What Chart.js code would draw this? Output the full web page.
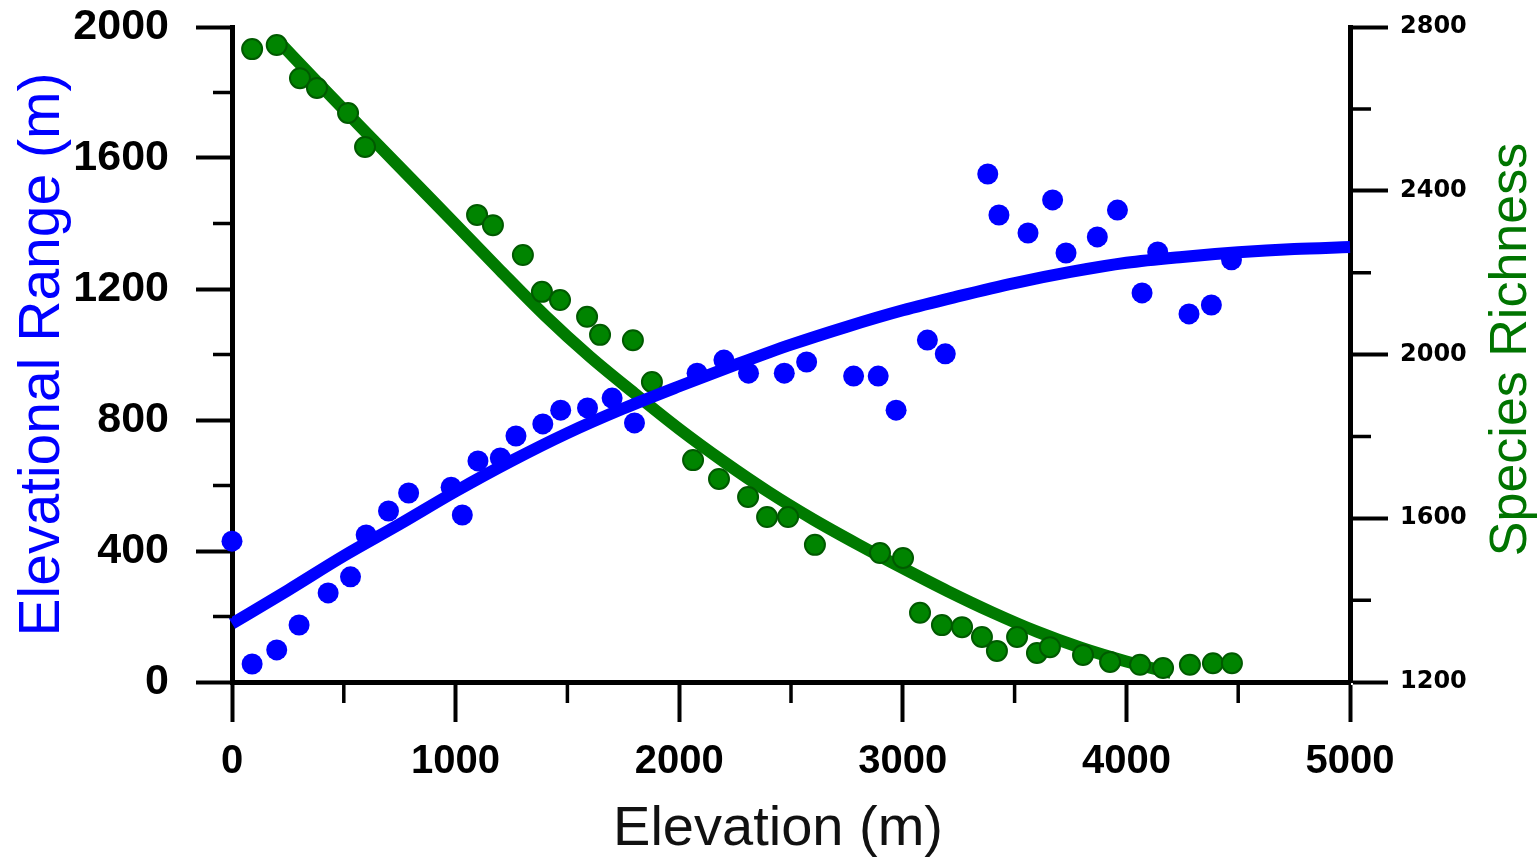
<!DOCTYPE html>
<html>
<head>
<meta charset="utf-8">
<script src="https://cdn.jsdelivr.net/npm/chart.js@4.4.1/dist/chart.umd.min.js"></script>
<style>
  html, body { margin: 0; padding: 0; background: #fff; overflow: hidden; }
  #wrap { width: 1540px; height: 861px; }
</style>
</head>
<body>
<div id="wrap"><canvas id="c" width="1540" height="861"></canvas></div>
<script>
// ---- Data ----
// Elevational range scatter (left axis)
const rangeElevation = [0, 90, 200, 300, 430, 530, 600, 700, 790, 980, 1030, 1100, 1200, 1270, 1390, 1470, 1590, 1700, 1800, 2080, 2200, 2310, 2470, 2570, 2780, 2890, 2970, 3110, 3190, 3380, 3430, 3560, 3670, 3730, 3870, 3960, 4070, 4140, 4280, 4380, 4470];
const rangeValues    = [430, 55, 98, 174, 272, 321, 449, 522, 577, 595, 510, 675, 684, 751, 788, 830, 837, 867, 791, 943, 983, 943, 943, 977, 934, 934, 830, 1044, 1002, 1551, 1426, 1371, 1472, 1310, 1359, 1441, 1188, 1313, 1124, 1151, 1289];

// Fitted curve of elevational range (left axis)
const rangeFitElevation = [0, 250, 500, 750, 1000, 1250, 1500, 1750, 2000, 2250, 2500, 2750, 3000, 3250, 3500, 3750, 4000, 4250, 4500, 4750, 5000];
const rangeFitValues    = [178, 280, 385, 482, 582, 675, 760, 835, 903, 968, 1030, 1085, 1135, 1178, 1218, 1252, 1280, 1298, 1312, 1322, 1328];

// Species richness scatter (right axis)
const richElevation = [90, 200, 304, 380, 519, 595, 1096, 1167, 1301, 1386, 1467, 1588, 1646, 1793, 1878, 2062, 2178, 2308, 2393, 2487, 2607, 2898, 3001, 3077, 3175, 3265, 3354, 3421, 3511, 3600, 3658, 3806, 3927, 4061, 4164, 4284, 4387, 4472];
const richValues    = [2746, 2756, 2675, 2651, 2590, 2507, 2341, 2316, 2243, 2153, 2133, 2092, 2048, 2035, 1933, 1742, 1696, 1652, 1603, 1603, 1535, 1515, 1503, 1369, 1339, 1334, 1310, 1276, 1310, 1271, 1285, 1266, 1249, 1242, 1234, 1242, 1246, 1246];

// Fitted curve of species richness (right axis)
const richFitElevation = [200, 400, 600, 800, 1000, 1200, 1400, 1600, 1800, 2000, 2200, 2400, 2600, 2800, 3000, 3200, 3400, 3600, 3800, 4000, 4200];
const richFitValues    = [2770, 2655, 2542, 2430, 2318, 2205, 2095, 1995, 1905, 1818, 1738, 1664, 1597, 1536, 1478, 1422, 1370, 1323, 1283, 1250, 1222];

// Axis ticks
const xMajorStep = 1000, xMin = 0, xMax = 5000;
const xMinorTicks = [500, 1500, 2500, 3500, 4500];
const yMajorStep = 400, yMin = 0, yMax = 2000;
const yMinorTicks = [200, 600, 1000, 1400, 1800];
const y1MajorStep = 400, y1Min = 1200, y1Max = 2800;
const y1MinorTicks = [1400, 1800, 2200, 2600];

const xTitle = 'Elevation (m)';
const yTitle = 'Elevational Range (m)';
const y1Title = 'Species Richness';

// ---- Styles ----
const BLUE = '#0000ff';
const GREEN = '#008400';
const GREEN_DARK = '#005a00';
const FONT = "'Liberation Sans', Arial, sans-serif";

const pts = (xs, ys) => xs.map((x, i) => ({ x: x, y: ys[i] }));
const plain = v => String(v);

const extrasPlugin = {
  id: 'extras',
  afterDraw(chart) {
    const ctx = chart.ctx;
    const { x, y, y1 } = chart.scales;
    ctx.save();
    // minor tick marks
    ctx.strokeStyle = '#000';
    ctx.lineWidth = 3.5;
    ctx.beginPath();
    xMinorTicks.forEach(v => { const p = x.getPixelForValue(v); ctx.moveTo(p, x.top); ctx.lineTo(p, x.top + 21); });
    yMinorTicks.forEach(v => { const p = y.getPixelForValue(v); ctx.moveTo(y.right - 19, p); ctx.lineTo(y.right, p); });
    y1MinorTicks.forEach(v => { const p = y1.getPixelForValue(v); ctx.moveTo(y1.left, p); ctx.lineTo(y1.left + 21, p); });
    ctx.stroke();
    ctx.textAlign = 'center';
    ctx.textBaseline = 'middle';
    // x axis title (slightly left of the plot centre, as in the reference)
    ctx.fillStyle = '#111';
    ctx.font = "56px " + FONT;
    ctx.fillText(xTitle, (x.left + x.right) / 2 - 13, x.bottom - 31);
    // right axis title, reading bottom-to-top as in the reference
    const cy = (y1.top + y1.bottom) / 2;
    ctx.translate(y1.right - 28, cy - 5);
    ctx.rotate(-Math.PI / 2);
    ctx.fillStyle = '#007400';
    ctx.font = "52px " + FONT;
    ctx.fillText(y1Title, 0, 0);
    ctx.restore();
  }
};

new Chart(document.getElementById('c'), {
  type: 'scatter',
  data: {
    datasets: [
      {
        label: 'Elevational range',
        data: pts(rangeElevation, rangeValues),
        yAxisID: 'y',
        backgroundColor: BLUE,
        borderColor: BLUE,
        pointRadius: 10.5,
        pointBorderWidth: 0,
        showLine: false,
        clip: false,
        order: 0
      },
      {
        label: 'Elevational range fit',
        data: pts(rangeFitElevation, rangeFitValues),
        yAxisID: 'y',
        borderColor: BLUE,
        backgroundColor: BLUE,
        borderWidth: 12,
        pointRadius: 0,
        showLine: true,
        cubicInterpolationMode: 'monotone',
        clip: false,
        order: 1
      },
      {
        label: 'Species richness',
        data: pts(richElevation, richValues),
        yAxisID: 'y1',
        backgroundColor: GREEN,
        borderColor: GREEN_DARK,
        pointRadius: 10,
        pointBorderWidth: 2,
        showLine: false,
        clip: false,
        order: 2
      },
      {
        label: 'Species richness fit',
        data: pts(richFitElevation, richFitValues),
        yAxisID: 'y1',
        borderColor: '#007a00',
        backgroundColor: GREEN,
        borderWidth: 12,
        pointRadius: 0,
        showLine: true,
        cubicInterpolationMode: 'monotone',
        clip: false,
        order: 3
      }
    ]
  },
  options: {
    responsive: false,
    animation: false,
    devicePixelRatio: 1,
    layout: { padding: { top: 27, right: 0, bottom: 0, left: 0 } },
    plugins: { legend: { display: false }, tooltip: { enabled: false } },
    scales: {
      x: {
        type: 'linear',
        position: 'bottom',
        min: xMin, max: xMax,
        afterFit: s => { s.height = 179; s.paddingLeft = 0; s.paddingRight = 0; },
        ticks: { stepSize: xMajorStep, padding: 16, color: '#000', maxRotation: 0, autoSkip: false, callback: plain,
                 font: { family: FONT, size: 40, weight: 'bold' } },
        grid: { drawOnChartArea: false, drawTicks: true, tickLength: 40, tickWidth: 4, tickColor: '#000' },
        border: { display: true, color: '#000', width: 5 },
        title: { display: false }
      },
      y: {
        type: 'linear',
        position: 'left',
        min: yMin, max: yMax,
        afterFit: s => { s.width = 232; s.paddingTop = 0; s.paddingBottom = 0; },
        ticks: { stepSize: yMajorStep, padding: 27, color: '#000', callback: plain,
                 font: { family: FONT, size: 43, weight: 'bold', lineHeight: 1 } },
        grid: { drawOnChartArea: false, drawTicks: true, tickLength: 36, tickWidth: 4, tickColor: '#000' },
        border: { display: true, color: '#000', width: 5 },
        title: { display: true, text: yTitle, color: BLUE, font: { family: FONT, size: 57, lineHeight: 1 },
                 padding: { top: 15, bottom: 0 } }
      },
      y1: {
        type: 'linear',
        position: 'right',
        min: y1Min, max: y1Max,
        afterFit: s => { s.width = 190; s.paddingTop = 0; s.paddingBottom = 0; },
        ticks: { stepSize: y1MajorStep, padding: 12, color: '#000', callback: plain,
                 font: { family: "'DejaVu Sans', sans-serif", size: 24, weight: 'bold', lineHeight: 1 } },
        grid: { drawOnChartArea: false, drawTicks: true, tickLength: 38, tickWidth: 4, tickColor: '#000' },
        border: { display: true, color: '#000', width: 5 },
        title: { display: false }
      }
    }
  },
  plugins: [extrasPlugin]
});
</script>
</body>
</html>
